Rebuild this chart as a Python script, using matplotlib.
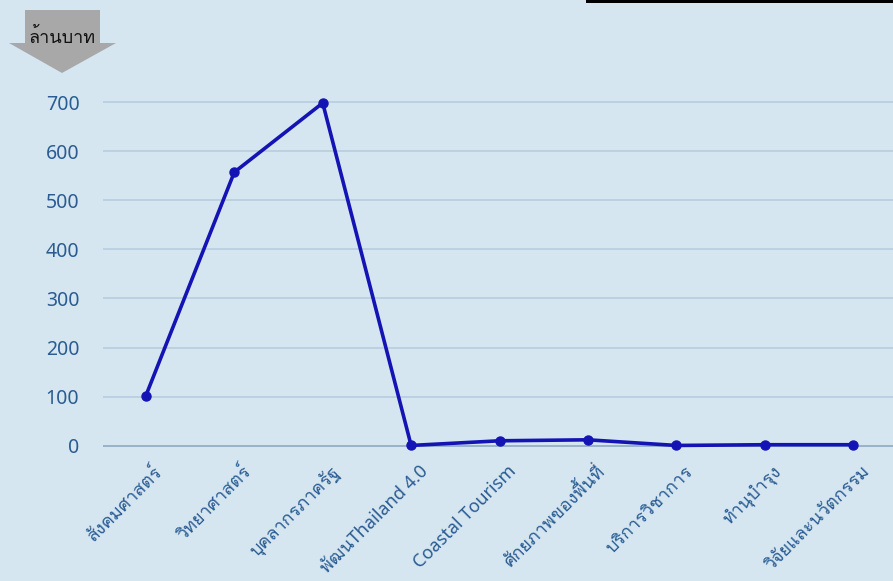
import matplotlib
matplotlib.use("Agg")
import matplotlib.pyplot as plt
from matplotlib import font_manager
from matplotlib.ft2font import FT2Font
from matplotlib.patches import Polygon, Rectangle
from matplotlib.transforms import ScaledTranslation

categories = ["สังคมศาสตร์", "วิทยาศาสตร์", "บุคลากรภาครัฐ", "พัฒนThailand 4.0",
              "Coastal Tourism", "ศักยภาพของพื้นที่", "บริการวิชาการ",
              "ทำนุบำรุง", "วิจัยและนวัตกรรม"]
budget = [102, 557, 698, 0.5, 10, 12, 0.5, 2, 2]
yticks = [0, 100, 200, 300, 400, 500, 600, 700]
unit_label = "ล้านบาท"


def find_thai_font():
    # first installed font that has Thai glyphs
    for f in font_manager.fontManager.ttflist:
        try:
            if 0x0E01 in FT2Font(f.fname).get_charmap():
                return f.name
        except Exception:
            pass
    return None


thai = find_thai_font()
families = ["Noto Sans"] + ([thai] if thai else []) + ["DejaVu Sans"]
plt.rcParams["font.family"] = families

bg = "#d5e6f1"
W, H = 893, 581
fig = plt.figure(figsize=(W / 100, H / 100), dpi=100, facecolor=bg)

y_lo, y_hi = -10, 720
px = 343.7 / 700
bottom = (581 - 445.7 - 10 * px) / H
height = (730 * px) / H
ax = fig.add_axes([103 / W, bottom, 1 - 103 / W, height], facecolor=bg)

x = list(range(len(categories)))
ax.plot(x, budget, color="#1414b4", lw=2.6, marker="o", ms=6.5, zorder=3, clip_on=False)

ax.set_xlim(-0.485, 8.45)
ax.set_ylim(y_lo, y_hi)
ax.set_yticks(yticks)
ax.set_yticklabels([str(v) for v in yticks])
ax.set_xticks(x)
ax.set_xticklabels(categories, rotation=45, ha="right", va="center",
                   rotation_mode="anchor")

for v in yticks:
    ax.axhline(v, color="#8fa9bf" if v == 0 else "#b6cde0", lw=1.2, zorder=1)

for s in ax.spines.values():
    s.set_visible(False)
ax.tick_params(axis="both", length=0, colors="#2a5c92")
ax.tick_params(axis="y", pad=17, labelsize=14)
ax.tick_params(axis="x", pad=13, labelsize=13)
for lbl in ax.get_xticklabels():
    lbl.set_transform(lbl.get_transform() + ScaledTranslation(14 / 100, 0, fig.dpi_scale_trans))

# grey arrow with unit label
pts = [(25, 10), (100, 10), (100, 43), (116, 43), (62, 73), (9, 43), (25, 43)]
arrow = Polygon([(a / W, 1 - b / H) for a, b in pts], closed=True,
                facecolor="#a8a8a8", edgecolor="none", transform=fig.transFigure)
fig.patches.append(arrow)
fig.text(62 / W, 1 - 37 / H, unit_label, ha="center", va="center",
         fontsize=13, color="#111111")

# black strip at top right
fig.patches.append(Rectangle((586 / W, 1 - 3 / H), 1, 3 / H, transform=fig.transFigure,
                             facecolor="#000000", edgecolor="none"))

fig.savefig("out.png", dpi=100, facecolor=bg)
